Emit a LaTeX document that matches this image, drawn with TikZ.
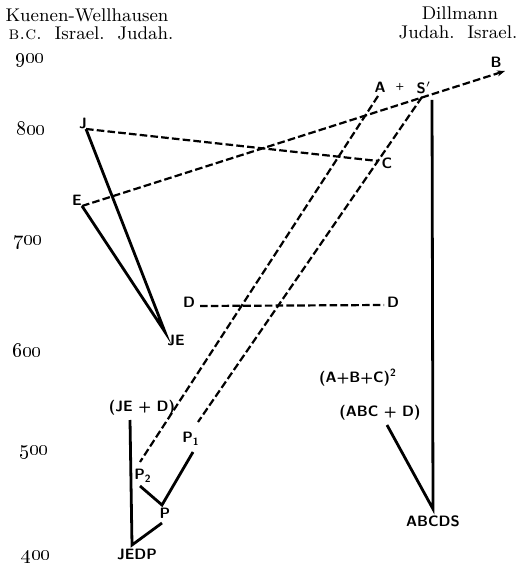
\documentclass[tikz,border=0pt]{standalone}
\usetikzlibrary{arrows.meta}

\begin{document}
\begin{tikzpicture}[x=0.5pt,y=-0.5pt,
    hdr/.style={font=\fontsize{9.2}{11}\selectfont,inner sep=0pt},
    yr/.style={font=\fontsize{10}{11}\selectfont,inner sep=0pt},
    lbl/.style={font=\sffamily\bfseries\fontsize{7.5}{8}\selectfont,inner sep=0pt},
    sline/.style={line width=1.4pt},
    dline/.style={line width=1.1pt,dash pattern=on 3.8pt off 1.6pt},
  ]
  \useasboundingbox (0,0) rectangle (517,565);
  % Headings
  \node[hdr] (kw)    at (87,15)  {Kuenen-Wellhausen};
  \node[hdr] (kwsub) at (91,33)  {\textsc{b.c.}\ \ Israel.\ \ Judah.};
  \node[hdr] (dm)    at (460,13) {Dillmann};
  \node[hdr] (dmsub) at (458,32) {Judah.\ \ Israel.};
  % Years
  \foreach \yv/\xpos/\ypos in {900/30/60,800/31/128,700/28/242,600/27/350,500/34/452,400/36/557}
    \node[yr] (y\yv) at (\xpos,\ypos) {\oldstylenums{\yv}};

  % Kuenen-Wellhausen
  \node[lbl] (jl)    at (83,123)  {J};
  \node[lbl] (el)    at (77,200)  {E};
  \node[lbl] (jel)   at (176,340) {JE};
  \node[lbl] (dl)    at (189,302) {D};
  \node[lbl] (dr)    at (393,302) {D};
  \node[lbl] (jedl)  at (142,408) {(JE + D)};
  \node[lbl] (p1l)   at (191,439) {P\textsubscript{1}};
  \node[lbl] (p2l)   at (143,476) {P\textsubscript{2}};
  \node[lbl] (pl)    at (165,513) {P};
  \node[lbl] (jedpl) at (137,554) {JEDP};
  \coordinate (j)    at (86,129);
  \coordinate (e)    at (82,206);
  \coordinate (je)   at (165,332);
  \coordinate (d1)   at (200,306);
  \coordinate (d2)   at (384,305);
  \coordinate (p2a)  at (140,462);
  \coordinate (p1a)  at (198,422);
  \coordinate (p2)   at (140,486);
  \coordinate (p)    at (162,505);
  \coordinate (p1)   at (193,452);
  \coordinate (jed)  at (130,420);
  \coordinate (jedp) at (132,545);
  \coordinate (pb)   at (162,523);

  % Dillmann
  \node[lbl] (al)     at (380,87)  {A};
  \node[lbl,font=\sffamily\bfseries\tiny] (plus) at (400,87) {+};
  \node[lbl] (sl)     at (424,88)  {S$'$};
  \node[lbl] (bl)     at (496,62)  {B};
  \node[lbl] (cl)     at (387,163) {C};
  \node[lbl] (abcl)   at (358,378) {(A+B+C)\textsuperscript{2}};
  \node[lbl] (abcdl)  at (380,413) {(ABC + D)};
  \node[lbl] (abcdsl) at (433,521) {ABCDS};
  \coordinate (a)     at (378,96);
  \coordinate (s)     at (422,97);
  \coordinate (sv)    at (432,100);
  \coordinate (b)     at (505,71);
  \coordinate (c)     at (378,161);
  \coordinate (abcd)  at (387,425);
  \coordinate (abcds) at (433,509);

  \draw[sline] (j) -- (je) -- (e);
  \draw[dline] (j) -- (c);
  \draw[dline,-{Stealth[length=4pt,width=3pt]}] (e) -- (b);
  \draw[dline] (a) -- (p2a);
  \draw[dline] (s) -- (p1a);
  \draw[dline] (d1) -- (d2);
  \draw[sline] (sv) -- (abcds) -- (abcd);
  \draw[sline] (jed) -- (jedp) -- (pb);
  \draw[sline] (p2) -- (p) -- (p1);
\end{tikzpicture}
\end{document}
